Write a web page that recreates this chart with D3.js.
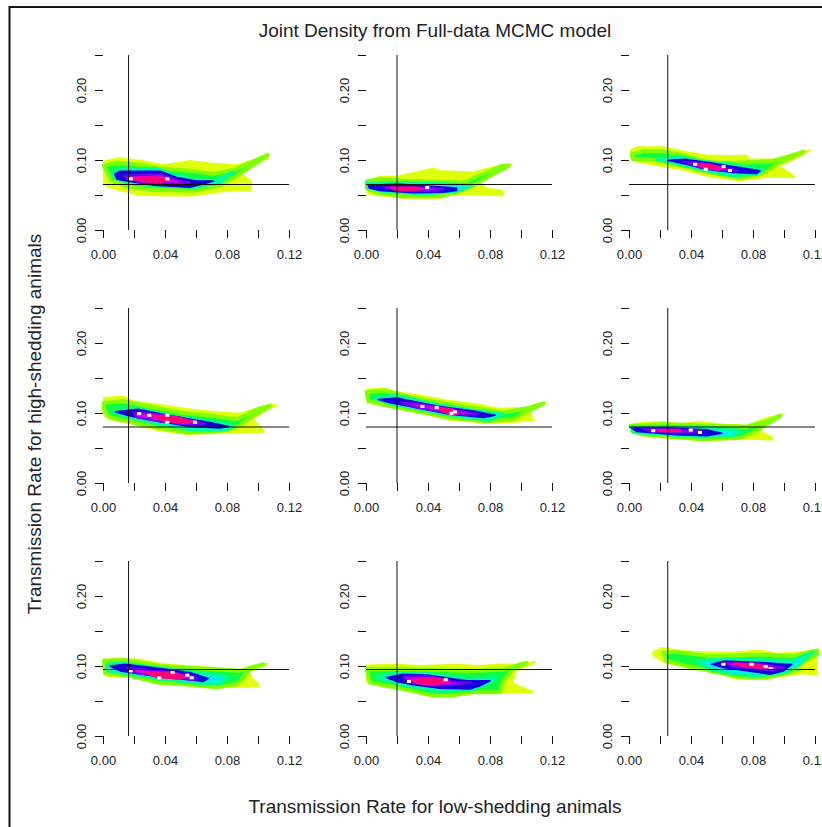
<!DOCTYPE html>
<html>
<head>
<meta charset="utf-8">
<script src="https://cdn.jsdelivr.net/npm/d3@7"></script>
<style>
  html, body { margin: 0; background: #fff; overflow: hidden; }
  text { font-family: "Liberation Sans", Arial, sans-serif; fill: #222; }
</style>
</head>
<body>
<script>
const levelColors = ["#e0ff10", "#10ff40", "#00f0f0", "#1200dc", "#c800ee", "#ff0070"];
const levelEdges = ["#e0ff10", "#80ff00", "#00ff90", "#1200dc", "#7000f0", "#ff0090"];
const levelEdgeWidths = [0, 4, 3, 1.5, 2, 1.5];

// vertical and horizontal reference values, by column and by row
const refLow = [0.0165, 0.02, 0.025];
const refHigh = [0.065, 0.08, 0.095];

const xTicks = [0, 0.02, 0.04, 0.06, 0.08, 0.1, 0.12];
const yTicks = [0, 0.05, 0.1, 0.15, 0.2, 0.25];
const xLabels = [0, 0.04, 0.08, 0.12];
const yLabels = [0, 0.1, 0.2];

// density outlines: [low rate, high rate], outer level first
const density1 = [
  [[0,.099],[.0103,.104],[.0174,.102],[.028,.099],[.039,.094],[.056,.1],[.071,.096],[.086,.094],[.097,.101],[.1066,.108],[.1075,.103],[.099,.094],[.088,.0845],[.093,.075],[.096,.07],[.096,.055],[.082,.055],[.071,.052],[.058,.048],[.039,.048],[.023,.049],[.01,.056],[.003,.061],[0,.066]],
  [[.0005,.092],[.0088,.0965],[.028,.092],[.0408,.087],[.0558,.0845],[.0712,.0798],[.0862,.087],[.097,.098],[.106,.107],[.099,.096],[.086,.077],[.0755,.0634],[.058,.056],[.0345,.057],[.0174,.061],[.0056,.0704]],
  [[.0056,.082],[.011,.087],[.0345,.088],[.045,.08],[.0583,.073],[.071,.07],[.084,.083],[.076,.068],[.0605,.061],[.0345,.063],[.0154,.068],[.007,.075]],
  [[.0075,.08],[.011,.084],[.037,.084],[.0475,.075],[.0604,.07],[.0712,.07],[.067,.067],[.056,.061],[.033,.064],[.0155,.07],[.009,.0725]],
  [[.0134,.0775],[.037,.0798],[.05,.0704],[.056,.068],[.0475,.0657],[.0238,.068],[.0155,.073]],
  [[.0174,.075],[.037,.076],[.043,.0704],[.0345,.067],[.022,.0704]]
];
const peaks1 = [[.018,.073],[.0415,.073]];

const density2 = [
  [[0,.0713],[.0095,.0775],[.02,.0775],[.026,.0807],[.044,.0892],[.048,.0855],[.0585,.0845],[.069,.0836],[.0895,.0953],[.095,.0953],[.091,.087],[.073,.0704],[.0775,.061],[.0885,.0573],[.089,.048],[.073,.0493],[.0515,.0493],[.049,.0446],[.024,.0446],[.011,.048],[.0005,.0507]],
  [[.0005,.0695],[.0095,.0728],[.026,.0704],[.0635,.068],[.073,.0775],[.088,.0915],[.092,.0915],[.08,.0775],[.069,.0634],[.058,.054],[.0477,.0483],[.024,.0483],[.0068,.054],[.0005,.06]],
  [[.0005,.0667],[.0198,.068],[.069,.0648],[.065,.06],[.0585,.0554],[.037,.0516],[.011,.0554],[.0015,.06]],
  [[.0015,.0634],[.0198,.0657],[.0585,.06],[.0585,.0563],[.05,.054],[.0307,.0531],[.0089,.0563],[.0021,.06]],
  [[.0112,.061],[.0392,.061],[.05,.0587],[.0435,.0554],[.022,.0563]],
  [[.0155,.061],[.0327,.061],[.038,.0587],[.0295,.0563],[.0187,.0573]]
];
const peaks2 = [[.0395,.0605]];

const density3 = [
  [[.0006,.115],[.005,.1197],[.0221,.1197],[.035,.1136],[.0501,.108],[.0673,.107],[.076,.108],[.0781,.1023],[.0931,.1023],[.1103,.1103],[.1174,.116],[.1174,.1136],[.108,.1009],[.0974,.0915],[.106,.0798],[.108,.0742],[.0888,.0742],[.0716,.0695],[.0523,.0751],[.035,.0845],[.0178,.0915],[.005,.0962],[.0006,.1033]],
  [[.0017,.108],[.0092,.1127],[.0221,.1127],[.037,.1056],[.0523,.0962],[.0716,.0962],[.0931,.0986],[.1125,.1117],[.0974,.0962],[.0888,.0845],[.0845,.0798],[.0716,.0751],[.0523,.0822],[.035,.0915],[.0135,.1009],[.0028,.1009]],
  [[.0178,.1009],[.0308,.1056],[.0458,.0986],[.0673,.0939],[.0867,.0854],[.0824,.0798],[.0673,.0775],[.05,.0845],[.0329,.0939]],
  [[.025,.0995],[.037,.1009],[.0523,.0962],[.0845,.0845],[.0824,.0808],[.0673,.0822],[.05,.0868],[.037,.0939]],
  [[.035,.0976],[.0458,.0962],[.0673,.0868],[.0695,.0845],[.0588,.0845],[.0458,.0892]],
  [[.0436,.0939],[.0523,.0939],[.061,.0878],[.0566,.086],[.048,.0892]]
];
const peaks3 = [[.0427,.0939],[.0495,.0868],[.061,.0906],[.0652,.085]];

const density4 = [
  [[0,.123],[.013,.1249],[.0195,.1183],[.039,.1122],[.056,.1066],[.0712,.1028],[.0884,.1005],[.0949,.1052],[.1077,.1132],[.1135,.1122],[.1056,.1028],[.097,.0911],[.1013,.0817],[.1041,.0756],[.1041,.0714],[.0734,.07],[.054,.0686],[.0346,.0747],[.0174,.0841],[.0045,.0897],[0,.0958]],
  [[.0005,.1146],[.013,.1169],[.0282,.1099],[.0497,.1005],[.0712,.0958],[.0862,.0911],[.1013,.1066],[.1077,.1099],[.0949,.0935],[.0862,.0794],[.0734,.0737],[.054,.0723],[.0346,.0794],[.015,.0888],[.0045,.0935],[.0005,.1052]],
  [[.0056,.1028],[.0217,.1075],[.0497,.0935],[.0712,.0878],[.0841,.0817],[.0798,.0756],[.0561,.0761],[.0368,.0841],[.0174,.0935]],
  [[.0077,.1019],[.0227,.1052],[.0476,.0944],[.0691,.0864],[.0809,.0808],[.0755,.0784],[.0561,.0808],[.0368,.0878],[.0174,.0958]],
  [[.0195,.1005],[.0282,.1005],[.0497,.0935],[.0658,.085],[.0583,.0831],[.0368,.0878],[.0217,.0935]],
  [[.0303,.0972],[.0454,.0958],[.0583,.0878],[.0518,.085],[.039,.0888]]
];
const peaks4 = [[.0234,.0991],[.0299,.0967],[.0415,.0967],[.0415,.0869],[.0594,.0869]];

const density5 = [
  [[0,.1348],[.0123,.1367],[.0198,.131],[.0348,.1263],[.052,.1193],[.0692,.1146],[.0864,.1076],[.1036,.1085],[.109,.1137],[.117,.1155],[.1122,.109],[.1068,.1029],[.1079,.0897],[.11,.0888],[.1057,.0878],[.0907,.085],[.0778,.085],[.0541,.0888],[.037,.0982],[.0198,.1052],[.0047,.1122],[0,.1193]],
  [[.0004,.1301],[.0123,.132],[.0284,.1226],[.0477,.1146],[.0692,.1076],[.0885,.1005],[.1057,.1076],[.1144,.1137],[.1025,.1005],[.095,.0911],[.0778,.0878],[.0541,.0935],[.0348,.1019],[.0155,.1099],[.0015,.1169]],
  [[.0047,.1216],[.0187,.1254],[.0456,.1122],[.0692,.1038],[.0885,.0982],[.08,.0897],[.0563,.0958],[.0348,.1052],[.0155,.1132]],
  [[.008,.1193],[.0198,.1216],[.0456,.1099],[.0692,.1029],[.0832,.0968],[.0757,.0935],[.0541,.0982],[.0348,.1066],[.0155,.1146]],
  [[.022,.1146],[.0348,.1137],[.0563,.1052],[.0724,.0991],[.0649,.0972],[.0477,.1019],[.0327,.1076]],
  [[.0434,.1085],[.0563,.1052],[.0595,.0991],[.0541,.0982],[.0477,.1038]]
];
const peaks5 = [[.0364,.1094],[.0456,.1076],[.0574,.1015],[.0552,.0996]];

const density6 = [
  [[.0006,.0841],[.0093,.0878],[.0221,.0887],[.0329,.0855],[.0436,.0887],[.0608,.085],[.0759,.0831],[.0888,.0944],[.1017,.1005],[.0931,.0887],[.0845,.0756],[.0931,.0653],[.0931,.0606],[.0738,.062],[.0458,.0596],[.0286,.0629],[.0114,.0653],[.0006,.0723]],
  [[.001,.0817],[.0243,.0841],[.0523,.0817],[.0759,.0803],[.0867,.0864],[.0974,.0958],[.0888,.0841],[.0802,.0723],[.0716,.0643],[.0458,.0629],[.0243,.0667],[.0071,.07]],
  [[.001,.0803],[.0243,.0812],[.0544,.0784],[.0738,.0747],[.0673,.0676],[.0458,.0653],[.0243,.069],[.0028,.0723]],
  [[.0017,.0784],[.0243,.0784],[.0501,.0761],[.0598,.071],[.0501,.0676],[.0308,.069],[.0049,.0737]],
  [[.0093,.077],[.0329,.0761],[.0458,.0747],[.0394,.0723],[.0157,.0733]],
  [[.0179,.0765],[.0329,.0765],[.034,.0737],[.02,.0737]]
];
const peaks6 = [[.0157,.0747],[.0398,.0756],[.0458,.0723]];

const density7 = [
  [[.0002,.1108],[.0131,.1118],[.0249,.1104],[.0368,.1047],[.054,.101],[.0712,.0991],[.0884,.0953],[.0969,.1024],[.1073,.1047],[.1056,.101],[.0948,.0907],[.0969,.0813],[.1008,.0752],[.1008,.0695],[.0755,.0681],[.0583,.071],[.0368,.0742],[.0196,.0836],[.0045,.0836],[.0002,.086]],
  [[.0006,.1071],[.0131,.1085],[.0368,.1],[.0712,.0953],[.0884,.093],[.1034,.1024],[.0948,.0953],[.0905,.0836],[.0862,.0742],[.0733,.0695],[.0561,.0733],[.0346,.0766],[.0174,.086],[.0013,.0907]],
  [[.0024,.1024],[.0131,.1047],[.0346,.0977],[.0604,.0907],[.0712,.0883],[.0808,.085],[.0755,.0742],[.0583,.0756],[.0368,.0813],[.0174,.0883],[.0034,.093]],
  [[.0045,.1],[.0142,.1024],[.0368,.0963],[.0561,.0907],[.0679,.0822],[.0647,.078],[.0518,.0813],[.0325,.086],[.011,.093]],
  [[.0153,.0967],[.0217,.0967],[.0454,.0907],[.0604,.0836],[.0583,.0799],[.041,.0836],[.0217,.0897]],
  [[.026,.0916],[.0454,.0907],[.054,.085],[.0497,.0813],[.0346,.0836]]
];
const peaks7 = [[.0178,.093],[.0449,.0907],[.0544,.0869],[.0572,.0832],[.0363,.0832]];

const density8 = [
  [[0,.1023],[.0198,.1033],[.0348,.1014],[.0585,.1033],[.0714,.1014],[.0864,.1037],[.0993,.1033],[.11,.108],[.109,.1033],[.0972,.0929],[.095,.0765],[.1047,.0671],[.108,.0648],[.108,.061],[.0864,.0601],[.0735,.0624],[.0563,.0554],[.0434,.0554],[.0262,.0648],[.0112,.0718],[0,.0765]],
  [[.0004,.0953],[.0262,.0953],[.0692,.0929],[.0886,.0953],[.1036,.1047],[.095,.0953],[.0886,.0789],[.0864,.0624],[.0692,.0624],[.0542,.0577],[.0434,.0577],[.0241,.0671],[.0026,.0765]],
  [[.0069,.0845],[.0198,.0906],[.0391,.0897],[.0692,.0812],[.0843,.0836],[.08,.0765],[.0692,.0657],[.0477,.0638],[.0262,.0718],[.0133,.0789]],
  [[.0133,.0836],[.0241,.0883],[.0391,.0873],[.065,.0789],[.08,.0789],[.0735,.0718],[.067,.0671],[.0477,.0681],[.0305,.0732],[.0198,.0779]],
  [[.0241,.0845],[.0413,.0859],[.0563,.0779],[.0681,.0765],[.0585,.0732],[.0434,.0718],[.0284,.0765]],
  [[.0294,.0812],[.0477,.0826],[.0542,.0765],[.0434,.0732],[.0327,.0751]]
];
const peaks8 = [[.0277,.0779],[.0514,.0803]];

const density9 = [
  [[.0146,.1202],[.0211,.1272],[.0265,.1258],[.0308,.1235],[.0458,.1211],[.0673,.1202],[.0845,.1235],[.0953,.1188],[.1082,.1202],[.1215,.1249],[.1215,.0859],[.1125,.0883],[.106,.0859],[.0845,.0803],[.0695,.0803],[.0544,.0906],[.0351,.0977],[.0222,.1047],[.0157,.1141]],
  [[.0222,.1188],[.0308,.1202],[.0523,.1141],[.0845,.1164],[.106,.1141],[.1215,.1221],[.1215,.1164],[.1082,.1024],[.1103,.0953],[.0888,.0836],[.0738,.0836],[.0544,.092],[.0372,.1],[.0243,.1071]],
  [[.0437,.107],[.0566,.1094],[.0845,.1094],[.1039,.107],[.1189,.1202],[.1103,.1024],[.1017,.0906],[.0824,.0859],[.0673,.0883],[.0523,.0953]],
  [[.0533,.1024],[.0609,.107],[.0888,.1047],[.1017,.1024],[.105,.1024],[.0996,.093],[.091,.0883],[.0738,.0939],[.0609,.0977]],
  [[.0619,.1047],[.0824,.1038],[.0996,.0977],[.0931,.0939],[.0759,.0967],[.065,.1]],
  [[.0673,.1038],[.0824,.1024],[.091,.0977],[.0845,.0967],[.072,.1]]
];
const peaks9 = [[.0609,.1024],[.0791,.1024],[.0882,.0991],[.0914,.0963]];

const densities = [density1, density2, density3, density4, density5, density6, density7, density8, density9];
const peaks = [peaks1, peaks2, peaks3, peaks4, peaks5, peaks6, peaks7, peaks8, peaks9];

const width = 822, height = 827;
const colLeft = [103, 366, 629];
const rowBottom = [230, 483, 736];
const panelW = 186, panelH = 175;

const svg = d3.select("body").append("svg")
    .attr("width", width)
    .attr("height", height)
    .style("display", "block");

// the source picture is a soft image plot, so blur the filled levels a little
svg.append("defs").append("filter")
    .attr("id", "soft")
    .attr("x", "-5%").attr("y", "-20%").attr("width", "110%").attr("height", "140%")
  .append("feGaussianBlur")
    .attr("stdDeviation", 0.7);

// outer frame runs off the right and bottom of the page
svg.append("path")
    .attr("d", d3.line()([[9.5, height + 2], [9.5, 7], [width + 2, 7]]))
    .attr("fill", "none")
    .attr("stroke", "#111")
    .attr("stroke-width", 2);

densities.forEach((levels, i) => {
    const col = i % 3, row = Math.floor(i / 3);

    const x = d3.scaleLinear().domain([0, 0.12]).range([colLeft[col], colLeft[col] + panelW]);
    const y = d3.scaleLinear().domain([0, 0.25]).range([rowBottom[row], rowBottom[row] - panelH]);

    const g = svg.append("g");
    const outline = d3.line()
        .x(d => x(d[0]))
        .y(d => y(d[1]))
        .curve(d3.curveLinearClosed);

    g.append("g")
        .attr("filter", "url(#soft)")
      .selectAll("path")
      .data(levels)
      .enter()
      .append("path")
        .attr("d", outline)
        .attr("fill", (d, k) => levelColors[k])
        .attr("stroke", (d, k) => levelEdges[k])
        .attr("stroke-width", (d, k) => levelEdgeWidths[k])
        .attr("stroke-linejoin", "round");

    g.append("g")
      .selectAll("rect")
      .data(peaks[i])
      .enter()
      .append("rect")
        .attr("x", d => x(d[0]) - 2)
        .attr("y", d => y(d[1]) - 1.5)
        .attr("width", 4)
        .attr("height", 3)
        .attr("fill", "#fff");

    // reference lines
    g.append("line")
        .attr("x1", x(refLow[col])).attr("x2", x(refLow[col]))
        .attr("y1", y(0)).attr("y2", y(0.25))
        .attr("stroke", "#111");
    g.append("line")
        .attr("x1", x(0)).attr("x2", x(0.12))
        .attr("y1", y(refHigh[row])).attr("y2", y(refHigh[row]))
        .attr("stroke", "#111");

    // axes
    const xAxis = g.append("g")
        .attr("transform", `translate(0,${rowBottom[row]})`)
        .call(d3.axisBottom(x).tickValues(xTicks).tickSize(8).tickPadding(12)
            .tickFormat(d => xLabels.includes(d) ? d3.format(".2f")(d) : ""));
    xAxis.select(".domain").remove();
    xAxis.selectAll("line").attr("stroke", "#111");
    xAxis.selectAll("text").style("font-size", "13px").style("font-family", null);

    const yAxis = g.append("g")
        .attr("transform", `translate(${colLeft[col]},0)`)
        .call(d3.axisLeft(y).tickValues(yTicks).tickSize(8)
            .tickFormat(d => yLabels.includes(d) ? d3.format(".2f")(d) : ""));
    yAxis.select(".domain").remove();
    yAxis.selectAll("line").attr("stroke", "#111");
    yAxis.selectAll("text")
        .attr("x", null).attr("dy", null)
        .attr("transform", "translate(-17,0) rotate(-90)")
        .style("text-anchor", "middle")
        .style("font-size", "13px")
        .style("font-family", null);
});

svg.append("text")
    .attr("x", 435)
    .attr("y", 37)
    .style("text-anchor", "middle")
    .style("font-size", "19px")
    .text("Joint Density from Full-data MCMC model");

svg.append("text")
    .attr("x", 435)
    .attr("y", 813)
    .style("text-anchor", "middle")
    .style("font-size", "19px")
    .text("Transmission Rate for low-shedding animals");

svg.append("text")
    .attr("transform", "translate(41,424) rotate(-90)")
    .style("text-anchor", "middle")
    .style("font-size", "19px")
    .text("Transmission Rate for high-shedding animals");
</script>
</body>
</html>
